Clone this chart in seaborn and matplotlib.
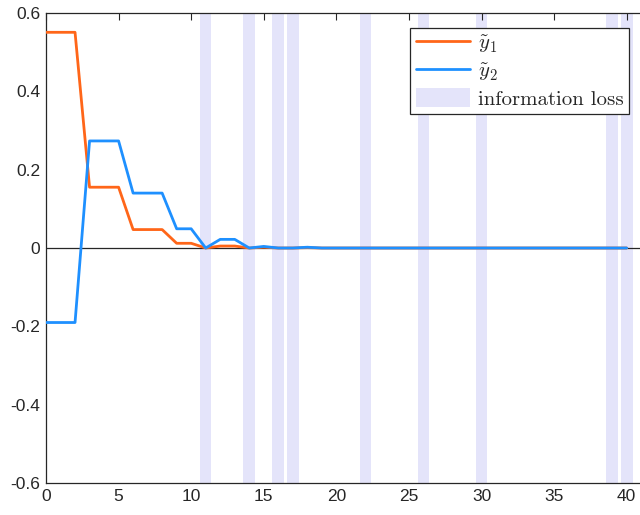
import numpy as np
import pandas as pd
import matplotlib
matplotlib.use("Agg")
import matplotlib.pyplot as plt
import seaborn as sns
from matplotlib.patches import Patch
from matplotlib.lines import Line2D
from matplotlib.font_manager import FontProperties

# ---- data ----
steps = list(range(0, 41))
y1_values = [0.55, 0.55, 0.55, 0.155, 0.155, 0.155, 0.047, 0.047, 0.047, 0.012,
             0.012, 0.0, 0.005, 0.005, 0.0, 0.002, 0.0, 0.0, 0.001] + [0.0] * 22
y2_values = [-0.19, -0.19, -0.19, 0.273, 0.273, 0.273, 0.14, 0.14, 0.14, 0.049,
             0.049, 0.0, 0.022, 0.022, 0.0, 0.004, 0.0, 0.0, 0.002] + [0.0] * 22
loss_steps = [11, 14, 16, 17, 22, 26, 30, 39, 40]
series_labels = [r"$\tilde{y}_1$", r"$\tilde{y}_2$"]
band_label = "information loss"
x_ticks = [0, 5, 10, 15, 20, 25, 30, 35, 40]
y_ticks = [-0.6, -0.4, -0.2, 0, 0.2, 0.4, 0.6]

orange = "#FF6619"
blue = "#1E90FF"
band_color = "#E4E4FA"
dark = "#262626"

sns.set_style("white")
plt.rcParams["font.family"] = ["Liberation Sans", "DejaVu Sans"]
plt.rcParams["mathtext.fontset"] = "cm"
plt.rcParams["axes.unicode_minus"] = False

df = pd.DataFrame({
    "step": steps * 2,
    "value": y1_values + y2_values,
    "series": ["y1"] * len(steps) + ["y2"] * len(steps),
})

fig = plt.figure(figsize=(6.4, 5.15), dpi=100)
W, H = 640, 515
left_px, zero_px, forty_px = 46, 46, 626.7
px_per_unit = (forty_px - zero_px) / 40.0
xmax = 41.6
ax_w_px = xmax * px_per_unit
bottom_px, top_px = 483.3, 12.7
ax = fig.add_axes([left_px / W, 1 - bottom_px / H, ax_w_px / W, (bottom_px - top_px) / H])

for s in loss_steps:
    ax.axvspan(s - 0.4, s + 0.4, color=band_color, lw=0, zorder=0)

ax.axhline(0, color=dark, lw=0.9, zorder=1)

sns.lineplot(data=df, x="step", y="value", hue="series",
             palette={"y1": orange, "y2": blue}, linewidth=2.0,
             legend=False, ax=ax, zorder=3)

ax.set_xlim(0, xmax)
ax.set_ylim(-0.6, 0.6)
ax.set_xticks(x_ticks)
ax.set_yticks(y_ticks)
ax.set_xticklabels([f"{t:g}" for t in x_ticks])
ax.set_yticklabels([f"{t:g}" for t in y_ticks])
ax.set_xlabel("")
ax.set_ylabel("")
ax.tick_params(direction="in", length=5, width=0.8, color=dark, labelcolor=dark,
               labelsize=12.5, top=True, right=True, pad=4)
for sp in ax.spines.values():
    sp.set_color(dark)
    sp.set_linewidth(0.9)

handles = [Line2D([0], [0], color=orange, lw=2.0),
           Line2D([0], [0], color=blue, lw=2.0),
           Patch(facecolor=band_color, edgecolor="none")]
leg = fig.legend(handles, series_labels + [band_label],
                 loc="upper right", bbox_to_anchor=(629 / W, 1 - 27.7 / H),
                 bbox_transform=fig.transFigure, borderaxespad=0,
                 prop=FontProperties(family="cmr10", size=15),
                 frameon=True, fancybox=False, framealpha=1, edgecolor=dark,
                 handlelength=2.6, handleheight=1.0, handletextpad=0.4,
                 labelspacing=0.25, borderpad=0.25)
leg.get_frame().set_linewidth(0.9)

fig.savefig("out.png", dpi=100)
